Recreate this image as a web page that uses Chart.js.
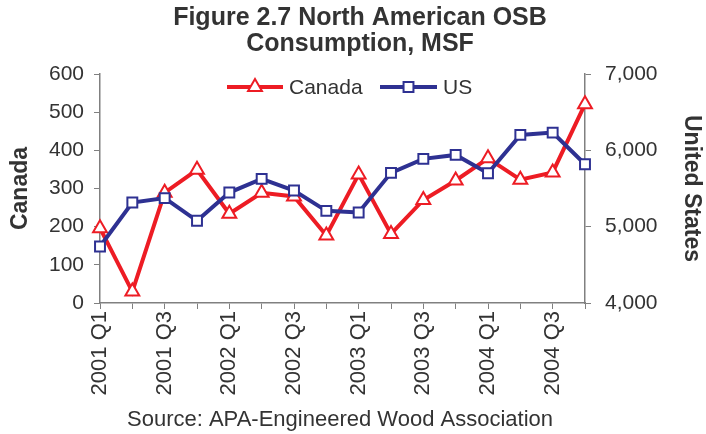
<!DOCTYPE html>
<html>
<head>
<meta charset="utf-8">
<script src="https://cdn.jsdelivr.net/npm/chart.js@4/dist/chart.umd.min.js"></script>
<style>
  html, body { margin: 0; padding: 0; background: #fff; }
  #wrap { width: 706px; height: 434px; }
</style>
</head>
<body>
<div id="wrap"><canvas id="osb"></canvas></div>
<script>
// quarters 2001 Q1 .. 2004 Q4
const quarters = ['2001 Q1', '2001 Q2', '2001 Q3', '2001 Q4',
  '2002 Q1', '2002 Q2', '2002 Q3', '2002 Q4',
  '2003 Q1', '2003 Q2', '2003 Q3', '2003 Q4',
  '2004 Q1', '2004 Q2', '2004 Q3', '2004 Q4'];
const canada = [196, 30, 289, 349, 234, 289, 279, 177, 337, 181, 270, 321, 379, 323, 342, 521];
const us = [4740, 5316, 5374, 5077, 5447, 5626, 5473, 5207, 5185, 5705, 5888, 5940, 5700, 6202, 6232, 5818];

const RED = '#ed1c24';
const BLUE = '#2e3192';
const TXT = '#333333';
const FONT = "'Liberation Sans', Arial, sans-serif";

// title, source line and the line+marker legend
const extras = {
  id: 'extras',
  afterDraw(chart) {
    const ctx = chart.ctx;
    ctx.save();
    ctx.fillStyle = TXT;
    ctx.textAlign = 'center';
    ctx.textBaseline = 'alphabetic';
    ctx.font = 'bold 25px ' + FONT;
    ctx.fillText('Figure 2.7 North American OSB', 360, 25);
    ctx.fillText('Consumption, MSF', 360, 51);
    ctx.font = '22px ' + FONT;
    ctx.textBaseline = 'middle';
    ctx.fillText('Source: APA-Engineered Wood Association', 340, 420);

    // legend
    const items = [
      { ds: chart.data.datasets[0], x0: 227, x1: 283, tx: 289 },
      { ds: chart.data.datasets[1], x0: 380, x1: 437, tx: 443 }
    ];
    const y = 87;
    items.forEach(it => {
      ctx.strokeStyle = it.ds.borderColor;
      ctx.lineWidth = 4;
      ctx.beginPath();
      ctx.moveTo(it.x0, y);
      ctx.lineTo(it.x1, y);
      ctx.stroke();
      ctx.fillStyle = '#fff';
      ctx.lineWidth = it.ds.pointBorderWidth;
      Chart.helpers.drawPoint(ctx, {
        pointStyle: it.ds.pointStyle,
        radius: it.ds.pointRadius,
        borderWidth: it.ds.pointBorderWidth,
        rotation: 0
      }, (it.x0 + it.x1) / 2, y);
      ctx.fillStyle = TXT;
      ctx.textAlign = 'left';
      ctx.font = '21px ' + FONT;
      ctx.fillText(it.ds.label, it.tx, y + 1);
    });
    ctx.restore();
  }
};

new Chart(document.getElementById('osb').getContext('2d'), {
  type: 'line',
  data: {
    labels: quarters,
    datasets: [{
      label: 'Canada',
      data: canada,
      yAxisID: 'y',
      borderColor: RED,
      borderWidth: 4,
      pointStyle: 'triangle',
      pointRadius: 8,
      pointBorderWidth: 2,
      pointBackgroundColor: '#fff',
      pointBorderColor: RED,
      tension: 0,
      order: 1
    }, {
      label: 'US',
      data: us,
      yAxisID: 'y1',
      borderColor: BLUE,
      borderWidth: 4,
      pointStyle: 'rect',
      pointRadius: 7,
      pointBorderWidth: 2,
      pointBackgroundColor: '#fff',
      pointBorderColor: BLUE,
      tension: 0,
      order: 0
    }]
  },
  options: {
    responsive: true,
    maintainAspectRatio: false,
    animation: false,
    layout: { padding: { top: 74, right: 0, bottom: 0, left: 0 } },
    plugins: {
      legend: { display: false },
      title: { display: false },
      tooltip: { enabled: false }
    },
    scales: {
      x: {
        offset: false,
        grid: { drawOnChartArea: false, drawTicks: true, tickLength: 6, color: '#808080' },
        border: { color: '#808080', width: 1.5 },
        ticks: {
          autoSkip: false,
          maxRotation: 90,
          minRotation: 90,
          padding: 2,
          color: TXT,
          font: { family: FONT, size: 22 },
          callback: (v, i) => (i % 2 === 0 ? quarters[i] : '')
        },
        afterFit: s => { s.height = 131; }
      },
      y: {
        position: 'left',
        min: 0,
        max: 600,
        grid: { drawOnChartArea: false, drawTicks: true, tickLength: 6, color: '#808080' },
        border: { color: '#808080', width: 1.5 },
        ticks: { stepSize: 100, padding: 10, color: TXT, font: { family: FONT, size: 21 } },
        title: { display: true, text: 'Canada', color: TXT, padding: { top: 7 }, font: { family: FONT, size: 23, weight: 'bold' } },
        afterFit: s => { s.width = 100; }
      },
      y1: {
        position: 'right',
        min: 4000,
        max: 7000,
        grid: { drawOnChartArea: false, drawTicks: true, tickLength: 6, color: '#808080' },
        border: { color: '#808080', width: 1.5 },
        ticks: {
          stepSize: 1000,
          padding: 14,
          color: TXT,
          font: { family: FONT, size: 21 },
          callback: v => v.toLocaleString('en-US')
        },
        title: { display: true, text: 'United States', color: TXT, padding: { top: 1 }, font: { family: FONT, size: 23, weight: 'bold' } },
        afterFit: s => { s.width = 121; }
      }
    }
  },
  plugins: [extras]
});
</script>
</body>
</html>
